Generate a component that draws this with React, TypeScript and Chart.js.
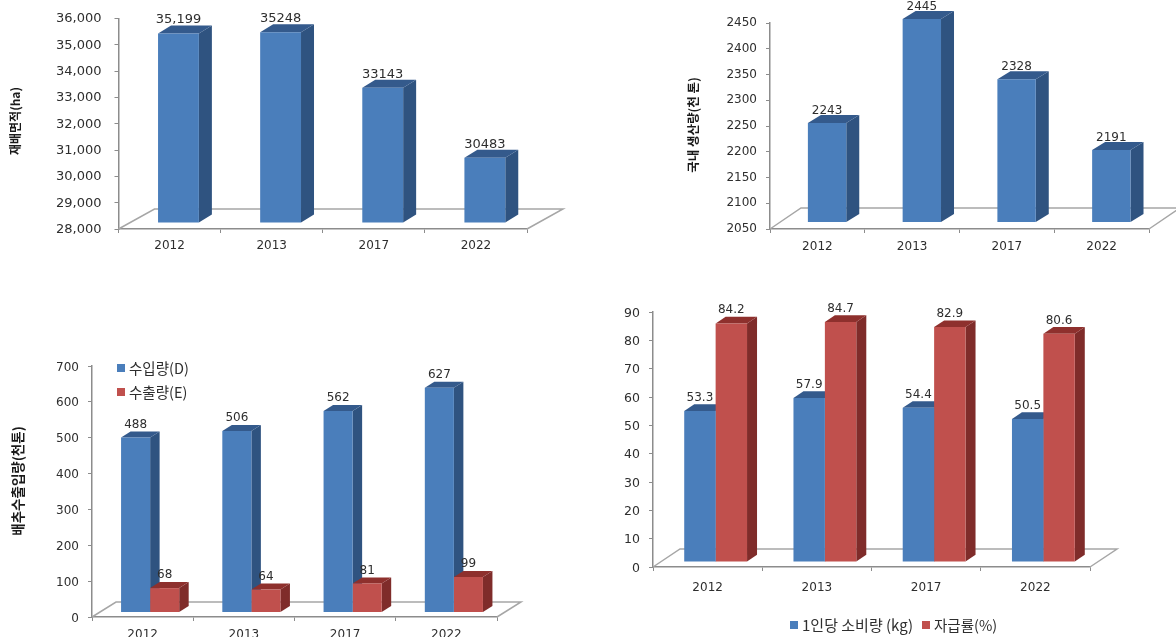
import React, { useEffect, useRef } from "react";
import { Chart, registerables } from "chart.js";

Chart.register(...registerables);

const years = ["2012", "2013", "2017", "2022"];

const cultivatedArea = [35199, 35248, 33143, 30483];
const cultivatedAreaLabels = ["35,199", "35248", "33143", "30483"];
const domesticOutput = [2243, 2445, 2328, 2191];
const importVolume = [488, 506, 562, 627];
const exportVolume = [68, 64, 81, 99];
const perCapitaUse = [53.3, 57.9, 54.4, 50.5];
const selfSufficiency = [84.2, 84.7, 82.9, 80.6];

const BLUE = { front: "#4a7ebb", side: "#2f5380", cap: "#345a8c" };
const RED = { front: "#c0504d", side: "#7f2c2a", cap: "#8e302d" };
const FONT = "'DejaVu Sans', sans-serif";
const KR_FONT = "'Noto Sans CJK KR', sans-serif";
const TEXT = "#2e2e2e";
const AXIS = "#8c8c8c";

type Panel = {
  box: [number, number, number, number];
  plot: [number, number, number, number];
  bar: { percent: number; shiftX: number; shiftY: number; depthX: number; depthY: number };
  floor: [number, number];
  scale: { min: number; max: number; step: number; comma?: boolean };
  series: { label: string; values: number[]; tone: typeof BLUE; texts?: string[] }[];
  fonts: { tick: number; x: number; value: number };
  tickGap: number;
  tickDrop: number;
  valueGap: number;
  xLabelGap: number;
  title?: { text: string; x: number; y: number; size: number };
  legend?: { x: number; y: number; text: number; size: number }[];
};

const panels: Panel[] = [
  {
    box: [0, 0, 590, 270],
    plot: [118.5, 527, 18.5, 229],
    bar: { percent: 0.4, shiftX: 8.9, shiftY: -6, depthX: 13, depthY: 8 },
    floor: [36, 20],
    scale: { min: 28000, max: 36000, step: 1000, comma: true },
    series: [{ label: "재배면적", values: cultivatedArea, tone: BLUE, texts: cultivatedAreaLabels }],
    fonts: { tick: 13, x: 12, value: 13 },
    tickGap: 13,
    tickDrop: 0.5,
    valueGap: 5.5,
    xLabelGap: 6,
    title: { text: "재배면적(ha)", x: 15, y: 121, size: 12 },
  },
  {
    box: [660, 0, 516, 270],
    plot: [770, 1149, 23, 229],
    bar: { percent: 0.405, shiftX: 9.7, shiftY: -6.5, depthX: 13, depthY: 8 },
    floor: [31, 21],
    scale: { min: 2050, max: 2450, step: 50 },
    series: [{ label: "국내생산량", values: domesticOutput, tone: BLUE }],
    fonts: { tick: 12, x: 12, value: 12 },
    tickGap: 9,
    tickDrop: 0,
    valueGap: 4,
    xLabelGap: 7,
    title: { text: "국내 생산량(천 톤)", x: 693, y: 125, size: 12.5 },
  },
  {
    box: [0, 340, 590, 297],
    plot: [92, 497, 366, 617],
    bar: { percent: 0.574, shiftX: 7.5, shiftY: -4.5, depthX: 9.5, depthY: 6 },
    floor: [24, 15],
    scale: { min: 0, max: 700, step: 100 },
    series: [
      { label: "수입량(D)", values: importVolume, tone: BLUE },
      { label: "수출량(E)", values: exportVolume, tone: RED },
    ],
    fonts: { tick: 12, x: 12, value: 12 },
    tickGap: 9,
    tickDrop: 1.5,
    valueGap: 7,
    xLabelGap: 7,
    title: { text: "배추수출입량(천톤)", x: 17.5, y: 481, size: 13.5 },
    legend: [
      { x: 117, y: 368, text: 129, size: 14.5 },
      { x: 117, y: 392, text: 129, size: 14.5 },
    ],
  },
  {
    box: [610, 290, 566, 347],
    plot: [653, 1090, 312, 567],
    bar: { percent: 0.575, shiftX: 8, shiftY: -5, depthX: 10, depthY: 6.7 },
    floor: [27, 18],
    scale: { min: 0, max: 90, step: 10 },
    series: [
      { label: "1인당 소비량 (kg)", values: perCapitaUse, tone: BLUE },
      { label: "자급률(%)", values: selfSufficiency, tone: RED },
    ],
    fonts: { tick: 12.5, x: 12, value: 12 },
    tickGap: 9,
    tickDrop: 1.5,
    valueGap: 6.5,
    xLabelGap: 10,
    legend: [
      { x: 790, y: 625, text: 802, size: 15 },
      { x: 922, y: 625, text: 934, size: 14.5 },
    ],
  },
];

// Extrudes each bar: side and cap faces go down first, then the library's
// rectangles are painted as the front faces, shifted onto the front plane.
function prismPlugin(panel: Panel) {
  const { shiftX, shiftY, depthX, depthY } = panel.bar;
  const [originX, originY] = panel.box;
  return {
    id: "prism",
    beforeDatasetsDraw(chart: any) {
      const { ctx, chartArea: a } = chart;
      const [dx, dy] = panel.floor;
      ctx.save();
      ctx.strokeStyle = "#a6a6a6";
      ctx.lineWidth = 1.5;
      ctx.beginPath();
      ctx.moveTo(a.left, a.bottom);
      ctx.lineTo(a.left + dx, a.bottom - dy);
      ctx.lineTo(a.right + dx, a.bottom - dy);
      ctx.lineTo(a.right, a.bottom);
      ctx.stroke();

      ctx.translate(shiftX, shiftY);
      panel.series.forEach((s, i) => {
        for (const el of chart.getDatasetMeta(i).data as any[]) {
          const { x, y, base, width } = el.getProps(["x", "y", "base", "width"], true);
          const l = x - width / 2;
          const r = x + width / 2;
          ctx.fillStyle = s.tone.side;
          ctx.beginPath();
          ctx.moveTo(r, y);
          ctx.lineTo(r + depthX, y - depthY);
          ctx.lineTo(r + depthX, base - depthY);
          ctx.lineTo(r, base);
          ctx.closePath();
          ctx.fill();
          ctx.fillStyle = s.tone.cap;
          ctx.beginPath();
          ctx.moveTo(l, y);
          ctx.lineTo(l + depthX, y - depthY);
          ctx.lineTo(r + depthX, y - depthY);
          ctx.lineTo(r, y);
          ctx.closePath();
          ctx.fill();
        }
      });
      ctx.restore();
    },
    beforeDatasetDraw(chart: any) {
      chart.ctx.save();
      chart.ctx.translate(shiftX, shiftY);
    },
    afterDatasetDraw(chart: any) {
      chart.ctx.restore();
    },
    afterDatasetsDraw(chart: any) {
      const { ctx } = chart;
      ctx.save();
      ctx.fillStyle = TEXT;
      ctx.textAlign = "center";
      ctx.textBaseline = "middle";
      ctx.font = `${panel.fonts.value}px ${FONT}`;
      panel.series.forEach((s, i) => {
        const meta = chart.getDatasetMeta(i);
        meta.data.forEach((el: any, j: number) => {
          const text = s.texts ? s.texts[j] : String(s.values[j]);
          ctx.fillText(text, el.x + shiftX, el.y + shiftY - depthY - panel.valueGap);
        });
      });

      if (panel.title) {
        const t = panel.title;
        ctx.save();
        ctx.translate(t.x - originX, t.y - originY);
        ctx.rotate(-Math.PI / 2);
        ctx.font = `bold ${t.size}px ${KR_FONT}`;
        ctx.fillStyle = "#1a1a1a";
        ctx.fillText(t.text, 0, 0);
        ctx.restore();
      }

      (panel.legend || []).forEach((item, i) => {
        ctx.fillStyle = panel.series[i].tone.front;
        ctx.fillRect(item.x - originX, item.y - originY - 4, 8, 8);
        ctx.fillStyle = TEXT;
        ctx.textAlign = "left";
        ctx.font = `${item.size}px ${KR_FONT}`;
        ctx.fillText(panel.series[i].label, item.text - originX, item.y - originY);
      });
      ctx.restore();
    },
  };
}

function BarPanel({ panel }: { panel: Panel }) {
  const ref = useRef<HTMLCanvasElement>(null);

  useEffect(() => {
    const [bx, by, bw, bh] = panel.box;
    const [left, right, top, bottom] = panel.plot;
    const chart = new Chart(ref.current!, {
      type: "bar",
      data: {
        labels: years,
        datasets: panel.series.map((s) => ({
          label: s.label,
          data: s.values,
          base: panel.scale.min,
          backgroundColor: s.tone.front,
          borderWidth: 0,
          clip: false,
        })) as any,
      },
      options: {
        responsive: false,
        animation: false,
        events: [],
        datasets: {
          bar: {
            categoryPercentage: panel.series.length > 1 ? panel.bar.percent : 1,
            barPercentage: panel.series.length > 1 ? 1 : panel.bar.percent,
          },
        },
        layout: {
          padding: { top: top - by, right: bx + bw - right, bottom: 0, left: 0 },
        },
        plugins: { legend: { display: false }, tooltip: { enabled: false } },
        scales: {
          x: {
            afterFit: (s: any) => {
              s.height = by + bh - bottom;
            },
            border: { color: AXIS, width: 1.5 },
            grid: { drawOnChartArea: false, drawTicks: true, tickLength: 4, color: AXIS },
            ticks: {
              color: TEXT,
              padding: panel.xLabelGap,
              maxRotation: 0,
              font: { family: FONT, size: panel.fonts.x },
            },
          },
          y: {
            min: panel.scale.min,
            max: panel.scale.max,
            afterFit: (s: any) => {
              // the plot box is fixed, so tick padding must not push it inward
              s.width = left - bx;
              s.paddingTop = 0;
              s.paddingBottom = 0;
            },
            border: { color: AXIS, width: 1.5 },
            grid: { drawOnChartArea: false, drawTicks: true, tickLength: 4, color: AXIS },
            ticks: {
              stepSize: panel.scale.step,
              color: TEXT,
              padding: panel.tickGap,
              labelOffset: panel.tickDrop,
              font: { family: FONT, size: panel.fonts.tick },
              callback: (v: any) =>
                panel.scale.comma ? Number(v).toLocaleString("en-US") : String(v),
            },
          },
        },
      },
      plugins: [prismPlugin(panel)],
    } as any);
    return () => chart.destroy();
  }, [panel]);

  const [x, y, w, h] = panel.box;
  return (
    <canvas
      ref={ref}
      width={w}
      height={h}
      style={{ position: "absolute", left: x, top: y, width: w, height: h }}
    />
  );
}

export default function App() {
  return (
    <div
      style={{
        position: "absolute",
        left: 0,
        top: 0,
        width: 1176,
        height: 637,
        overflow: "hidden",
        background: "#fff",
      }}
    >
      {panels.map((p) => (
        <BarPanel key={p.box.join()} panel={p} />
      ))}
    </div>
  );
}
